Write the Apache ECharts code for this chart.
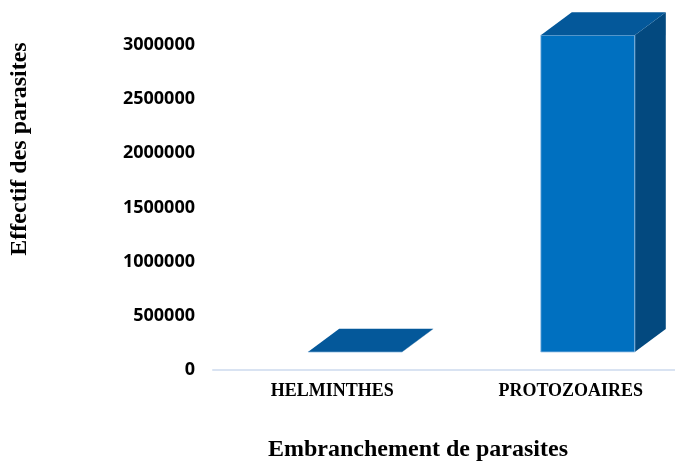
<!DOCTYPE html>
<html>
<head>
<meta charset="utf-8">
<script src="https://cdn.jsdelivr.net/npm/echarts@6/dist/echarts.min.js"></script>
<style>html,body{margin:0;padding:0;background:#fff}#c{width:675px;height:464px}</style>
</head>
<body>
<div id="c"></div>
<script>
const categories = ['HELMINTHES', 'PROTOZOAIRES'];
const effectifs = [3000, 2925000];
const yTicks = [0, 500000, 1000000, 1500000, 2000000, 2500000, 3000000];
const yTitle = 'Effectif des parasites';
const xTitle = 'Embranchement de parasites';

const chart = echarts.init(document.getElementById('c'), null, {renderer: 'canvas'});
const FRONT = '#0070C0', TOP = '#04589A', SIDE = '#03497F';
const HALF = 47, DX = 31, DY = -23, SHIFT_X = 23, PERSP = -0.025, PERSP_ORIGIN = 332, SHIFT_Y = -18;

chart.setOption({
  animation: false,
  grid: {left: 213, width: 477, top: 45, height: 325, containLabel: false, outerBoundsMode: 'none'},
  xAxis: {
    type: 'category', data: categories,
    axisLine: {show: true, lineStyle: {color: '#D9E3F2', width: 2}},
    axisTick: {show: false},
    axisLabel: {fontFamily: 'Liberation Serif', fontWeight: 'bold', fontSize: 18, color: '#000', margin: 12}
  },
  yAxis: {
    type: 'value', min: yTicks[0], max: yTicks[yTicks.length - 1], interval: yTicks[1] - yTicks[0],
    axisLine: {show: false}, axisTick: {show: false}, splitLine: {show: false},
    axisLabel: {fontFamily: 'Open Sans', fontWeight: 'bold', fontSize: 18, color: '#000', margin: 18,
                formatter: v => String(v)}
  },
  series: [{
    type: 'custom',
    data: effectifs.map((v, i) => [i, v]),
    renderItem: function (params, api) {
      const top = api.coord([api.value(0), api.value(1)]);
      const base = api.coord([api.value(0), 0]);
      const cx = top[0] + SHIFT_X + PERSP * (top[0] - PERSP_ORIGIN);
      const xl = cx - HALF, xr = cx + HALF;
      const yt = top[1] + SHIFT_Y, yb = base[1] + SHIFT_Y;
      return {
        type: 'group',
        children: [
          {type: 'polygon', shape: {points: [[xr, yt], [xr + DX, yt + DY], [xr + DX, yb + DY], [xr, yb]]}, style: {fill: SIDE}},
          {type: 'rect', shape: {x: xl, y: yt, width: xr - xl, height: yb - yt}, style: {fill: FRONT, stroke: '#9DC3E6', lineWidth: 0.8}},
          {type: 'polygon', shape: {points: [[xl, yt], [xr, yt], [xr + DX, yt + DY], [xl + DX, yt + DY]]}, style: {fill: TOP}}
        ]
      };
    }
  }],
  graphic: [
    {type: 'text', x: 20, y: 149, rotation: Math.PI / 2,
     style: {text: yTitle, font: 'bold 24px "Liberation Serif"', fill: '#000', textAlign: 'center', textVerticalAlign: 'middle'}},
    {type: 'text', x: 418, y: 450,
     style: {text: xTitle, font: 'bold 24px "Liberation Serif"', fill: '#000', textAlign: 'center', textVerticalAlign: 'middle'}}
  ]
});
</script>
</body>
</html>
